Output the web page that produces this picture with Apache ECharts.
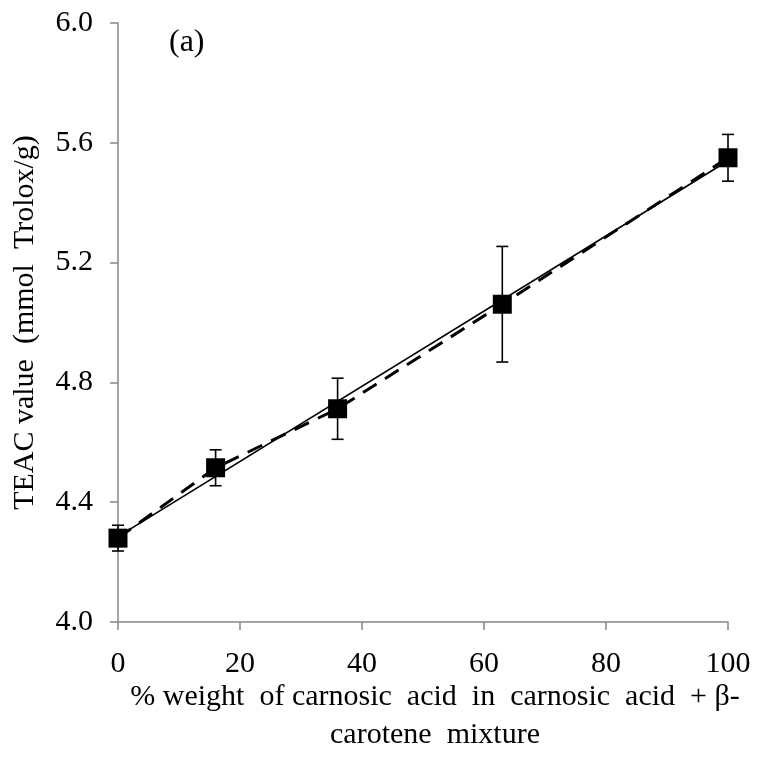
<!DOCTYPE html>
<html>
<head>
<meta charset="utf-8">
<script src="https://cdn.jsdelivr.net/npm/echarts@6/dist/echarts.min.js"></script>
<style>
  html, body { margin: 0; padding: 0; background: #fff; }
  #chart { width: 760px; height: 763px; }
</style>
</head>
<body>
<div id="chart"></div>
<script>
// Carnosic acid share (% w/w) in the carnosic acid + beta-carotene mixture
const carnosicPct = [0, 16, 36, 63, 100];
// Measured TEAC values (mmol Trolox/g) and their error bar half-widths
const teacMean = [4.28, 4.515, 4.712, 5.061, 5.55];
const teacErr = [0.043, 0.06, 0.102, 0.193, 0.078];
// Linear trend line end points
const trendX = [0, 100];
const trendY = [4.285, 5.54];
// Axis ticks
const yTicks = [4.0, 4.4, 4.8, 5.2, 5.6, 6.0];
const xTicks = [0, 20, 40, 60, 80, 100];

const FONT = '"Liberation Serif", "Times New Roman", serif';
const AXIS_GREY = '#868686';

const points = carnosicPct.map((x, i) => [x, teacMean[i]]);
const trend = trendX.map((x, i) => [x, trendY[i]]);
const errData = carnosicPct.map((x, i) => [x, teacMean[i] - teacErr[i], teacMean[i] + teacErr[i]]);

const chart = echarts.init(document.getElementById('chart'), null, { renderer: 'canvas' });

chart.setOption({
  animation: false,
  backgroundColor: '#fff',
  grid: { left: 118, right: 32, top: 23, bottom: 141, containLabel: false, outerBoundsMode: 'none' },
  xAxis: {
    type: 'value',
    min: xTicks[0],
    max: xTicks[xTicks.length - 1],
    interval: xTicks[1] - xTicks[0],
    name: '% weight  of carnosic  acid  in  carnosic  acid  + β-\ncarotene  mixture',
    nameLocation: 'middle',
    nameGap: 56,
    nameMoveOverlap: false,
    nameTextStyle: { fontFamily: FONT, fontSize: 30, color: '#000', lineHeight: 38, verticalAlign: 'top', padding: [0, 0, 0, 24] },
    axisLine: { show: true, lineStyle: { color: AXIS_GREY, width: 1.5 } },
    axisTick: { show: true, inside: false, length: 8, lineStyle: { color: AXIS_GREY, width: 1.5 } },
    axisLabel: { fontFamily: FONT, fontSize: 30, color: '#000', margin: 27 },
    splitLine: { show: false }
  },
  yAxis: {
    type: 'value',
    min: yTicks[0],
    max: yTicks[yTicks.length - 1],
    interval: 0.4,
    name: 'TEAC value  (mmol  Trolox/g)',
    nameLocation: 'middle',
    nameGap: 78,
    nameMoveOverlap: false,
    nameRotate: 90,
    nameTextStyle: { fontFamily: FONT, fontSize: 30, color: '#000' },
    axisLine: { show: true, lineStyle: { color: AXIS_GREY, width: 1.5 } },
    axisTick: { show: true, inside: false, length: 8, lineStyle: { color: AXIS_GREY, width: 1.5 } },
    axisLabel: {
      fontFamily: FONT, fontSize: 30, color: '#000', margin: 25,
      formatter: v => v.toFixed(1)
    },
    splitLine: { show: false }
  },
  graphic: [{
    type: 'text',
    left: 169,
    top: 27,
    style: { text: '(a)', font: '32px ' + FONT, fill: '#000' }
  }],
  series: [
    {
      name: 'trend',
      type: 'line',
      data: trend,
      showSymbol: false,
      symbol: 'none',
      lineStyle: { color: '#000', width: 1.7, type: 'solid' },
      z: 2
    },
    {
      name: 'connect',
      type: 'line',
      data: points,
      showSymbol: false,
      symbol: 'none',
      lineStyle: { color: '#000', width: 3, type: [16, 10] },
      z: 3
    },
    {
      name: 'error',
      type: 'custom',
      data: errData,
      renderItem: function (params, api) {
        const x = api.value(0);
        const lo = api.coord([x, api.value(1)]);
        const hi = api.coord([x, api.value(2)]);
        const half = 6;
        const style = { stroke: '#000', lineWidth: 1.6 };
        return {
          type: 'group',
          children: [
            { type: 'line', shape: { x1: lo[0], y1: lo[1], x2: hi[0], y2: hi[1] }, style },
            { type: 'line', shape: { x1: lo[0] - half, y1: lo[1], x2: lo[0] + half, y2: lo[1] }, style },
            { type: 'line', shape: { x1: hi[0] - half, y1: hi[1], x2: hi[0] + half, y2: hi[1] }, style }
          ]
        };
      },
      z: 4
    },
    {
      name: 'TEAC',
      type: 'scatter',
      data: points,
      symbol: 'rect',
      symbolSize: 19,
      itemStyle: { color: '#000', opacity: 1 },
      z: 5
    }
  ]
});
</script>
</body>
</html>
